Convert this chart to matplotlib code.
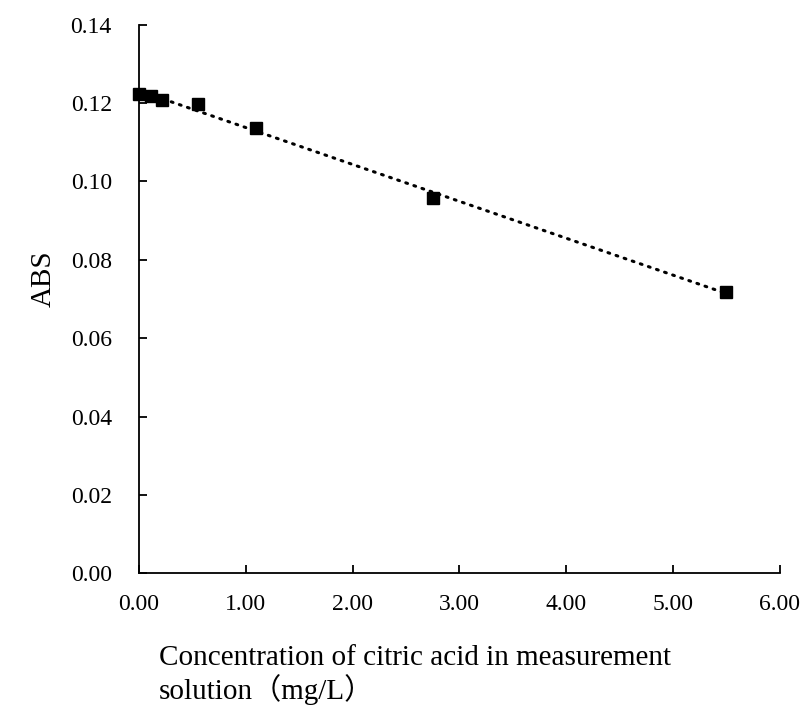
import numpy as np
import matplotlib.pyplot as plt

conc = [0.0, 0.11, 0.22, 0.55, 1.10, 2.75, 5.50]
abs_vals = [0.1222, 0.1218, 0.1208, 0.1198, 0.1137, 0.0958, 0.0718]

plt.rcParams['font.family'] = ['Liberation Serif', 'Noto Sans CJK SC']

fig = plt.figure(figsize=(8.03, 7.06), dpi=100)
ax = fig.add_axes([0.173, 0.188, 0.798, 0.777])

# linear trendline
k, b = np.polyfit(conc, abs_vals, 1)
xs = np.array([min(conc), max(conc)])
ax.plot(xs, k * xs + b, color='black', lw=2.2, linestyle=(0, (0.6, 2.2)),
        dash_capstyle='round', zorder=2)
ax.plot(conc, abs_vals, 's', color='black', ms=9, zorder=3, clip_on=False)

ax.set_xlim(0, 6)
ax.set_ylim(0, 0.14)
ax.set_xticks(np.arange(0, 6.01, 1))
ax.set_yticks(np.arange(0, 0.141, 0.02))
ax.set_xticklabels([f'{v:.2f}' for v in np.arange(0, 6.01, 1)])
ax.set_yticklabels([f'{v:.2f}' for v in np.arange(0, 0.141, 0.02)])
ax.tick_params(direction='in', length=6, width=1.3, labelsize=17, colors='black')
ax.tick_params(axis='x', pad=15)
ax.tick_params(axis='y', pad=19.5)
for s in ['top', 'right']:
    ax.spines[s].set_visible(False)
for s in ['left', 'bottom']:
    ax.spines[s].set_linewidth(1.3)

fig.text(0.055, 0.605, 'ABS', fontsize=21, rotation=90, ha='center', va='center')
fig.text(0.198, 0.087, 'Concentration of citric acid in measurement\nsolution（mg/L）',
         fontsize=21, ha='left', va='top', linespacing=1.15)

fig.savefig('out.png', dpi=100)
